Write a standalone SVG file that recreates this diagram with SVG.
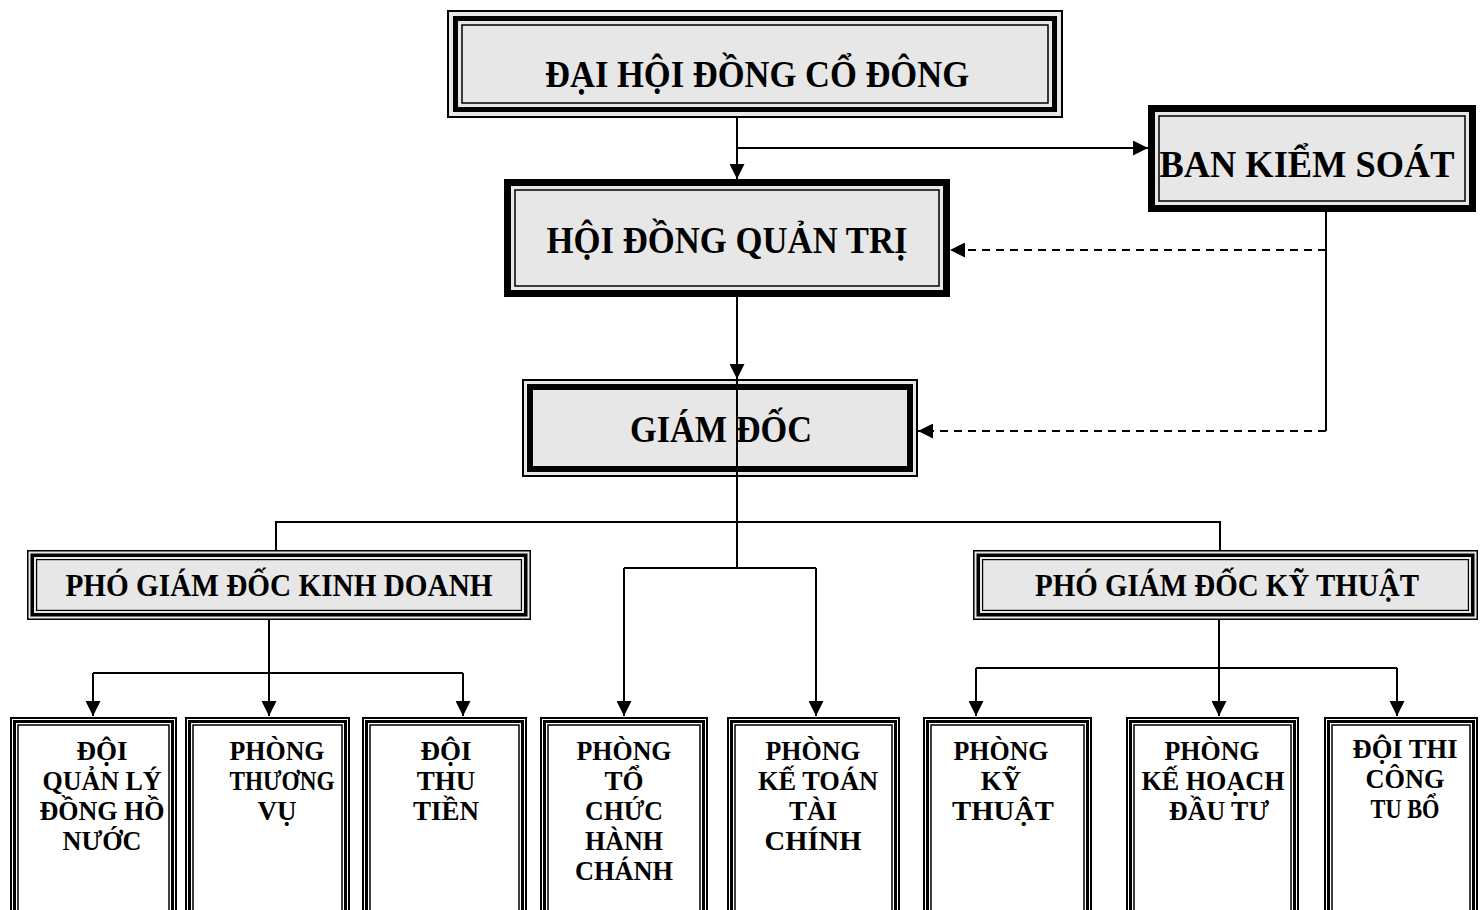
<svg xmlns="http://www.w3.org/2000/svg" width="1480" height="910" viewBox="0 0 1480 910">
<style>
.t{font-family:"Liberation Serif","Times New Roman",serif;font-weight:bold;fill:#000;text-anchor:middle}
.big{font-size:38px}
.mid{font-size:32px}
.sm{font-size:27px}
.k{fill:none;stroke:#000}
.g{fill:#e7e7e7}
.w{fill:#fff}
.ln{fill:none;stroke:#000;stroke-width:2}
.ds{fill:none;stroke:#000;stroke-width:2;stroke-dasharray:8 6}
</style>
<defs>
<marker id="ah" markerUnits="userSpaceOnUse" markerWidth="15" markerHeight="15" viewBox="0 0 15 15" refX="15" refY="7.5" orient="auto">
<path d="M0,0 L15,7.5 L0,15 Z" fill="#000"/>
</marker>
</defs>
<rect width="1480" height="910" fill="#fff"/>

<g id="dai-hoi-dong-co-dong">
<rect class="g k" x="448" y="11" width="614" height="106" stroke-width="2"/>
<rect class="k" x="455.5" y="18.5" width="599" height="91" stroke-width="5"/>
<rect class="k" x="462" y="25" width="586" height="78" stroke-width="1.5"/>
<text class="t big" x="757" y="87" textLength="424" lengthAdjust="spacingAndGlyphs">ĐẠI HỘI ĐỒNG CỔ ĐÔNG</text>
</g>

<g id="ban-kiem-soat">
<rect class="g k" x="1151.5" y="108.5" width="321" height="100" stroke-width="7"/>
<rect class="k" x="1159" y="116" width="306" height="85" stroke-width="1.5"/>
<text class="t big" x="1307" y="177" textLength="295" lengthAdjust="spacingAndGlyphs">BAN KIỂM SOÁT</text>
</g>

<g id="hoi-dong-quan-tri">
<rect class="g k" x="507.5" y="182.5" width="439" height="111" stroke-width="7"/>
<rect class="k" x="515" y="190" width="424" height="96" stroke-width="1.5"/>
<text class="t big" x="727" y="253" textLength="361" lengthAdjust="spacingAndGlyphs">HỘI ĐỒNG QUẢN TRỊ</text>
</g>

<g id="giam-doc">
<rect class="g k" x="523" y="380" width="394" height="96" stroke-width="2"/>
<rect class="k" x="530" y="387" width="380" height="82" stroke-width="6"/>
<text class="t big" x="721" y="442" textLength="182" lengthAdjust="spacingAndGlyphs">GIÁM ĐỐC</text>
</g>

<g id="pgd-kinh-doanh">
<rect class="g k" x="27.75" y="550.75" width="502.5" height="68.5" stroke-width="1.5"/>
<rect class="k" x="32.25" y="555.25" width="493.5" height="59.5" stroke-width="3.5"/>
<rect class="k" x="36.6" y="559.6" width="484.8" height="50.8" stroke-width="1.2"/>
<text class="t mid" x="279" y="596" textLength="427" lengthAdjust="spacingAndGlyphs">PHÓ GIÁM ĐỐC KINH DOANH</text>
</g>

<g id="pgd-ky-thuat">
<rect class="g k" x="973.75" y="550.75" width="503.5" height="68.5" stroke-width="1.5"/>
<rect class="k" x="978.25" y="555.25" width="494.5" height="59.5" stroke-width="3.5"/>
<rect class="k" x="982.6" y="559.6" width="485.8" height="50.8" stroke-width="1.2"/>
<text class="t mid" x="1227" y="596" textLength="384" lengthAdjust="spacingAndGlyphs">PHÓ GIÁM ĐỐC KỸ THUẬT</text>
</g>

<g id="doi-quan-ly-dong-ho-nuoc">
<rect class="w k" x="11" y="718" width="165" height="210" stroke-width="2"/>
<rect class="k" x="14.5" y="721.5" width="158" height="203" stroke-width="3"/>
<rect class="k" x="18" y="725" width="151" height="196" stroke-width="1.5"/>
<text class="t sm" x="102" y="760">ĐỘI</text>
<text class="t sm" x="102" y="790" textLength="119" lengthAdjust="spacingAndGlyphs">QUẢN LÝ</text>
<text class="t sm" x="102" y="820" textLength="125" lengthAdjust="spacingAndGlyphs">ĐỒNG HỒ</text>
<text class="t sm" x="102" y="850" textLength="79" lengthAdjust="spacingAndGlyphs">NƯỚC</text>
</g>

<g id="phong-thuong-vu">
<rect class="w k" x="186" y="718" width="163" height="210" stroke-width="2"/>
<rect class="k" x="189.5" y="721.5" width="156" height="203" stroke-width="3"/>
<rect class="k" x="193" y="725" width="149" height="196" stroke-width="1.5"/>
<text class="t sm" x="277" y="760" textLength="95" lengthAdjust="spacingAndGlyphs">PHÒNG</text>
<text class="t sm" x="282" y="790" textLength="105" lengthAdjust="spacingAndGlyphs">THƯƠNG</text>
<text class="t sm" x="277" y="820">VỤ</text>
</g>

<g id="doi-thu-tien">
<rect class="w k" x="363" y="718" width="163" height="210" stroke-width="2"/>
<rect class="k" x="366.5" y="721.5" width="156" height="203" stroke-width="3"/>
<rect class="k" x="370" y="725" width="149" height="196" stroke-width="1.5"/>
<text class="t sm" x="446" y="760">ĐỘI</text>
<text class="t sm" x="446" y="790">THU</text>
<text class="t sm" x="446" y="820">TIỀN</text>
</g>

<g id="phong-to-chuc-hanh-chanh">
<rect class="w k" x="541" y="718" width="166" height="210" stroke-width="2"/>
<rect class="k" x="544.5" y="721.5" width="159" height="203" stroke-width="3"/>
<rect class="k" x="548" y="725" width="152" height="196" stroke-width="1.5"/>
<text class="t sm" x="624" y="760" textLength="95" lengthAdjust="spacingAndGlyphs">PHÒNG</text>
<text class="t sm" x="624" y="790">TỔ</text>
<text class="t sm" x="624" y="820" textLength="78" lengthAdjust="spacingAndGlyphs">CHỨC</text>
<text class="t sm" x="624" y="850" textLength="78" lengthAdjust="spacingAndGlyphs">HÀNH</text>
<text class="t sm" x="624" y="880" textLength="98" lengthAdjust="spacingAndGlyphs">CHÁNH</text>
</g>

<g id="phong-ke-toan-tai-chinh">
<rect class="w k" x="728" y="718" width="171" height="210" stroke-width="2"/>
<rect class="k" x="731.5" y="721.5" width="164" height="203" stroke-width="3"/>
<rect class="k" x="735" y="725" width="157" height="196" stroke-width="1.5"/>
<text class="t sm" x="813" y="760" textLength="95" lengthAdjust="spacingAndGlyphs">PHÒNG</text>
<text class="t sm" x="818" y="790" textLength="120" lengthAdjust="spacingAndGlyphs">KẾ TOÁN</text>
<text class="t sm" x="813" y="820">TÀI</text>
<text class="t sm" x="813" y="850" textLength="97" lengthAdjust="spacingAndGlyphs">CHÍNH</text>
</g>

<g id="phong-ky-thuat">
<rect class="w k" x="924" y="718" width="167" height="210" stroke-width="2"/>
<rect class="k" x="927.5" y="721.5" width="160" height="203" stroke-width="3"/>
<rect class="k" x="931" y="725" width="153" height="196" stroke-width="1.5"/>
<text class="t sm" x="1001" y="760" textLength="95" lengthAdjust="spacingAndGlyphs">PHÒNG</text>
<text class="t sm" x="1001" y="790">KỸ</text>
<text class="t sm" x="1003" y="820" textLength="102" lengthAdjust="spacingAndGlyphs">THUẬT</text>
</g>

<g id="phong-ke-hoach-dau-tu">
<rect class="w k" x="1127" y="718" width="171" height="210" stroke-width="2"/>
<rect class="k" x="1130.5" y="721.5" width="164" height="203" stroke-width="3"/>
<rect class="k" x="1134" y="725" width="157" height="196" stroke-width="1.5"/>
<text class="t sm" x="1212" y="760" textLength="95" lengthAdjust="spacingAndGlyphs">PHÒNG</text>
<text class="t sm" x="1213" y="790" textLength="143" lengthAdjust="spacingAndGlyphs">KẾ HOẠCH</text>
<text class="t sm" x="1219" y="820" textLength="100" lengthAdjust="spacingAndGlyphs">ĐẦU TƯ</text>
</g>

<g id="doi-thi-cong-tu-bo">
<rect class="w k" x="1325" y="718" width="152" height="210" stroke-width="2"/>
<rect class="k" x="1328.5" y="721.5" width="145" height="203" stroke-width="3"/>
<rect class="k" x="1332" y="725" width="138" height="196" stroke-width="1.5"/>
<text class="t sm" x="1405" y="758" textLength="105" lengthAdjust="spacingAndGlyphs">ĐỘI THI</text>
<text class="t sm" x="1405" y="788" textLength="79" lengthAdjust="spacingAndGlyphs">CÔNG</text>
<text class="t sm" x="1405" y="818" textLength="69" lengthAdjust="spacingAndGlyphs">TU BỔ</text>
</g>

<g id="connectors">
<path class="ln" d="M737,118 V179" marker-end="url(#ah)"/>
<path class="ln" d="M737,148 H1148" marker-end="url(#ah)"/>
<path class="ln" d="M737,297 V379" marker-end="url(#ah)"/>
<path class="ln" d="M1326,212 V431"/>
<path class="ds" d="M1326,250 H950" marker-end="url(#ah)"/>
<path class="ds" d="M1326,431 H918" marker-end="url(#ah)"/>
<path class="ln" d="M737,379 V568"/>
<path class="ln" d="M276,550 V522 H1220 V550"/>
<path class="ln" d="M624,568 H816"/>
<path class="ln" d="M624,568 V716" marker-end="url(#ah)"/>
<path class="ln" d="M816,568 V716" marker-end="url(#ah)"/>
<path class="ln" d="M269,620 V716" marker-end="url(#ah)"/>
<path class="ln" d="M93,673 H463"/>
<path class="ln" d="M93,673 V716" marker-end="url(#ah)"/>
<path class="ln" d="M463,673 V716" marker-end="url(#ah)"/>
<path class="ln" d="M1219,620 V716" marker-end="url(#ah)"/>
<path class="ln" d="M976,668 H1397"/>
<path class="ln" d="M976,668 V716" marker-end="url(#ah)"/>
<path class="ln" d="M1397,668 V716" marker-end="url(#ah)"/>
</g>
</svg>
